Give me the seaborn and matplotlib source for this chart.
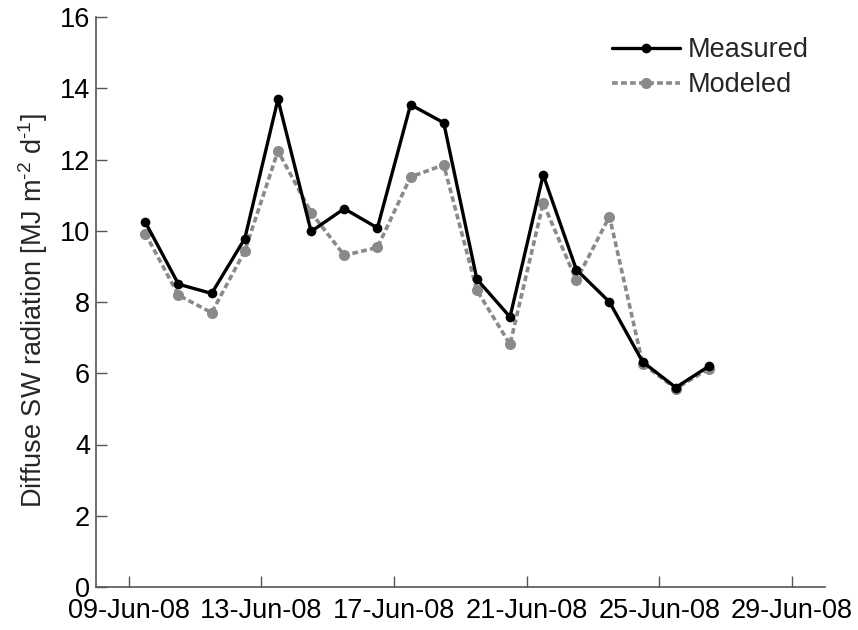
import matplotlib
matplotlib.use("Agg")
import matplotlib.pyplot as plt
import matplotlib.dates as mdates
import seaborn as sns
import pandas as pd

dates = ["2008-06-09 12:00", "2008-06-10 12:00", "2008-06-11 12:00", "2008-06-12 12:00",
         "2008-06-13 12:00", "2008-06-14 12:00", "2008-06-15 12:00", "2008-06-16 12:00",
         "2008-06-17 12:00", "2008-06-18 12:00", "2008-06-19 12:00", "2008-06-20 12:00",
         "2008-06-21 12:00", "2008-06-22 12:00", "2008-06-23 12:00", "2008-06-24 12:00",
         "2008-06-25 12:00", "2008-06-26 12:00"]
measured = [10.24, 8.50, 8.24, 9.78, 13.69, 9.98, 10.62, 10.08, 13.54, 13.03,
            8.64, 7.58, 11.57, 8.91, 8.00, 6.32, 5.60, 6.20]
modeled = [9.92, 8.19, 7.70, 9.43, 12.24, 10.51, 9.31, 9.53, 11.51, 11.85,
           8.33, 6.81, 10.78, 8.61, 10.40, 6.27, 5.57, 6.13]
tick_dates = ["2008-06-09", "2008-06-13", "2008-06-17", "2008-06-21", "2008-06-25", "2008-06-29"]
ylabel = r"Diffuse SW radiation [MJ m$^{\text{-}2}$ d$^{\text{-}1}$]"

sns.set_style("white")
plt.rcParams["font.family"] = ["Liberation Sans", "DejaVu Sans"]
plt.rcParams["mathtext.fontset"] = "custom"
plt.rcParams["mathtext.rm"] = "Liberation Sans"
plt.rcParams["mathtext.default"] = "regular"
FS = 19.5

df = pd.DataFrame({"date": pd.to_datetime(dates), "Measured": measured, "Modeled": modeled})

fig = plt.figure(figsize=(8.58, 6.30), dpi=100)
ax = fig.add_axes([95.6 / 858, 43 / 630, (825 - 95.6) / 858, (587 - 17) / 630])

sns.lineplot(data=df, x="date", y="Modeled", ax=ax, color="#8a8a8a", linewidth=2.6,
             linestyle=(0, (1.6, 0.9)), marker="o", markersize=8, markeredgewidth=0,
             label="Modeled", zorder=2)
sns.lineplot(data=df, x="date", y="Measured", ax=ax, color="black", linewidth=2.4,
             marker="o", markersize=7, markeredgewidth=0, label="Measured", zorder=3)

ax.set_xlim(pd.Timestamp("2008-06-08"), pd.Timestamp("2008-06-30"))
ax.set_ylim(0, 16)
ax.set_yticks(range(0, 17, 2))
ax.set_xticks(pd.to_datetime(tick_dates))
ax.xaxis.set_major_formatter(mdates.DateFormatter("%d-%b-%y"))
ax.set_xlabel("")
ax.set_ylabel(ylabel, fontsize=FS)
ax.yaxis.set_label_coords(-0.062, 0.485)

for s in ["top", "right"]:
    ax.spines[s].set_visible(False)
for s in ["left", "bottom"]:
    ax.spines[s].set_color("#555555")
    ax.spines[s].set_linewidth(1.2)
ax.tick_params(direction="in", length=8, width=1.0, color="#555555",
               labelsize=FS, labelcolor="black", left=True, bottom=True)
ax.tick_params(axis="x", pad=8)
ax.tick_params(axis="y", pad=4)

h, l = ax.get_legend_handles_labels()
order = [l.index("Measured"), l.index("Modeled")]
ax.legend([h[i] for i in order], [l[i] for i in order], frameon=False, fontsize=FS,
          loc="upper left", bbox_to_anchor=(612 / 858, 1 - 37 / 630),
          bbox_transform=fig.transFigure, borderpad=0, borderaxespad=0,
          handlelength=2.5, handletextpad=0.3, labelspacing=0.35)

fig.savefig("out.png", dpi=100)
